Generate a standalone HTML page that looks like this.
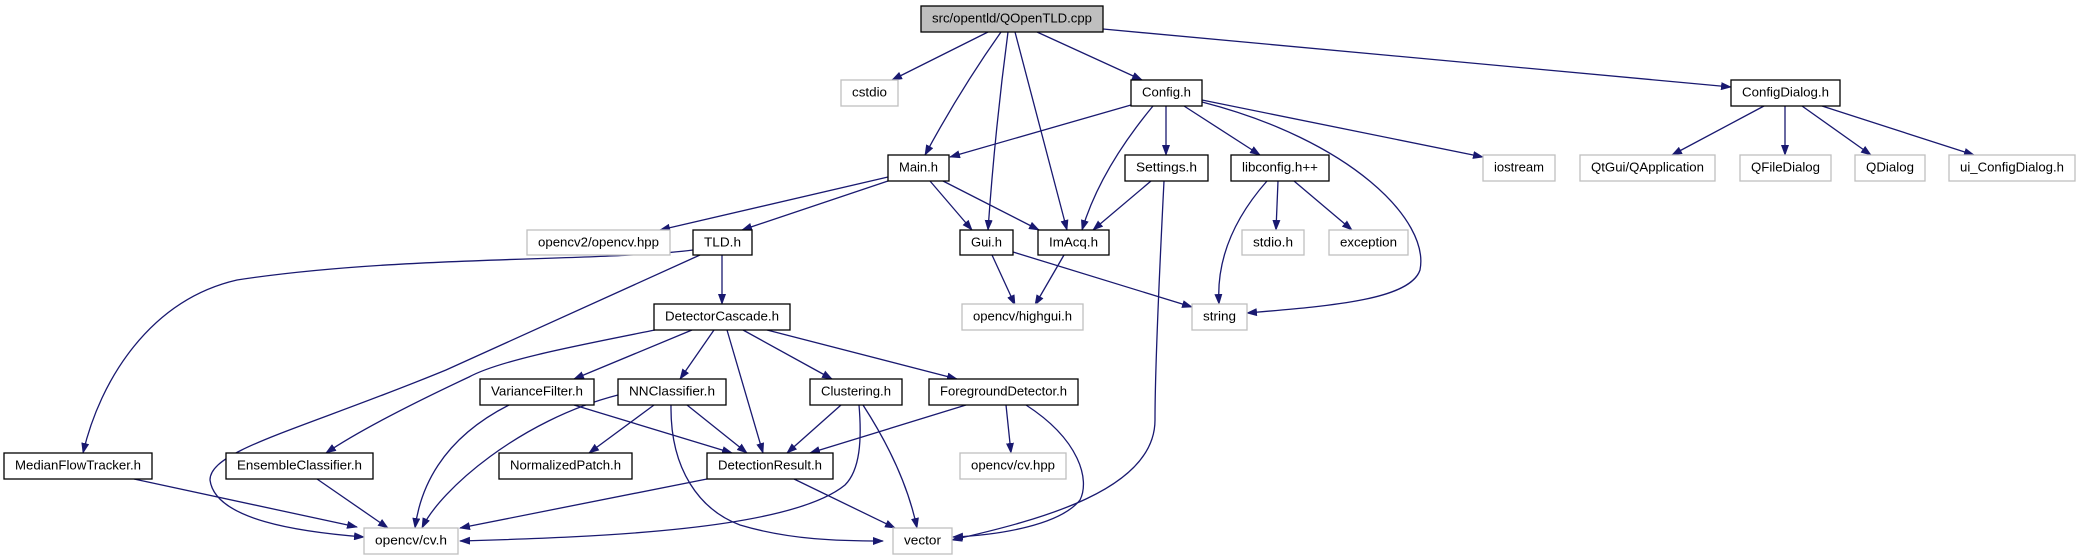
<!DOCTYPE html>
<html><head><meta charset="utf-8"><style>
html,body{margin:0;padding:0;background:#fff;}
svg{display:block;}
text{font-family:"Liberation Sans",Helvetica,sans-serif;font-size:13px;fill:#000;}
</style></head><body>
<svg width="2077" height="560" viewBox="0 0 2077 560" xmlns="http://www.w3.org/2000/svg">
<defs>
<marker id="a" markerWidth="11" markerHeight="8" refX="10" refY="4" orient="auto" markerUnits="userSpaceOnUse">
<path d="M0,0 L11,4 L0,8 z" fill="#191970"/>
</marker>
</defs>
<g fill="none" stroke="#191970" stroke-width="1.3" marker-end="url(#a)">
<path d="M988,32 L892,80"/>
<path d="M1001,32 Q960,90 925,155"/>
<path d="M1008,32 Q995,130 988,230"/>
<path d="M1015,32 L1067,230"/>
<path d="M1037,32 L1142,80"/>
<path d="M1103,29 L1731,87"/>
<path d="M1131,105 L950,157"/>
<path d="M1153,106 Q1100,170 1082,230"/>
<path d="M1166,106 L1166,155"/>
<path d="M1184,106 L1260,155"/>
<path d="M1202,100 L1483,157"/>
<path d="M1202,102 C1350,140 1430,220 1420,270 C1410,300 1330,306 1247,313"/>
<path d="M888,177 L660,230"/>
<path d="M888,181 L742,230"/>
<path d="M930,181 L972,230"/>
<path d="M943,181 L1039,230"/>
<path d="M1151,181 L1093,230"/>
<path d="M1164,181 C1158,300 1155,380 1155,420 C1155,490 1040,520 952,540"/>
<path d="M1278,181 L1276,230"/>
<path d="M1294,181 L1352,230"/>
<path d="M1267,181 Q1215,240 1219,304"/>
<path d="M992,255 L1015,305"/>
<path d="M1013,252 L1192,307"/>
<path d="M1064,255 L1035,305"/>
<path d="M722,255 L722,304"/>
<path d="M693,250 C600,262 400,255 237,280 C150,300 100,380 83,453"/>
<path d="M700,255 L446,370 C300,430 210,450 210,480 C215,520 300,532 364,537"/>
<path d="M655,330 C580,345 500,360 469,377 C420,400 360,430 326,453"/>
<path d="M692,330 L574,379"/>
<path d="M714,330 L680,379"/>
<path d="M727,330 L763,453"/>
<path d="M743,330 L832,379"/>
<path d="M767,330 L957,379"/>
<path d="M509,405 C440,440 420,490 415,528"/>
<path d="M574,405 L732,453"/>
<path d="M618,395 C520,420 440,490 422,528"/>
<path d="M654,405 L589,453"/>
<path d="M687,405 L747,453"/>
<path d="M671,405 C670,470 700,510 740,525 C790,540 840,541 883,541"/>
<path d="M841,405 L787,453"/>
<path d="M859,405 C862,440 860,470 845,485 C790,530 600,537 460,541"/>
<path d="M863,405 Q905,470 917,528"/>
<path d="M966,405 L810,453"/>
<path d="M1006,405 L1011,453"/>
<path d="M1026,405 C1080,440 1090,480 1080,500 C1060,525 1000,535 953,537"/>
<path d="M707,479 L460,528"/>
<path d="M794,479 L895,528"/>
<path d="M134,479 L357,527"/>
<path d="M317,479 L388,528"/>
<path d="M1764,106 L1672,155"/>
<path d="M1785,106 L1785,155"/>
<path d="M1802,106 L1871,155"/>
<path d="M1822,106 L1974,155"/>
</g>
<rect x="921" y="6" width="182" height="26" fill="#bfbfbf" stroke="#000" stroke-width="1.3"/>
<g fill="#fff" stroke="#000" stroke-width="1.3">
<rect x="1131" y="80" width="71" height="26"/>
<rect x="1731" y="80" width="109" height="26"/>
<rect x="888" y="155" width="61" height="26"/>
<rect x="1125" y="155" width="83" height="26"/>
<rect x="1231" y="155" width="98" height="26"/>
<rect x="693" y="230" width="59" height="25"/>
<rect x="960" y="230" width="53" height="25"/>
<rect x="1038" y="230" width="71" height="25"/>
<rect x="654" y="304" width="136" height="26"/>
<rect x="480" y="379" width="114" height="26"/>
<rect x="618" y="379" width="108" height="26"/>
<rect x="810" y="379" width="92" height="26"/>
<rect x="929" y="379" width="149" height="26"/>
<rect x="4" y="453" width="148" height="26"/>
<rect x="226" y="453" width="147" height="26"/>
<rect x="499" y="453" width="133" height="26"/>
<rect x="707" y="453" width="126" height="26"/>
</g>
<g fill="#fff" stroke="#bfbfbf" stroke-width="1.3">
<rect x="841" y="80" width="57" height="26"/>
<rect x="1483" y="155" width="72" height="26"/>
<rect x="1580" y="155" width="135" height="26"/>
<rect x="1740" y="155" width="91" height="26"/>
<rect x="1855" y="155" width="70" height="26"/>
<rect x="1949" y="155" width="126" height="26"/>
<rect x="527" y="230" width="143" height="25"/>
<rect x="1242" y="230" width="62" height="25"/>
<rect x="1329" y="230" width="79" height="25"/>
<rect x="962" y="304" width="121" height="26"/>
<rect x="1192" y="304" width="55" height="26"/>
<rect x="960" y="453" width="106" height="26"/>
<rect x="364" y="528" width="94" height="26"/>
<rect x="893" y="528" width="59" height="26"/>
</g>
<g transform="translate(0,-1.5)">
<text x="932" y="24" textLength="160" lengthAdjust="spacingAndGlyphs">src/opentld/QOpenTLD.cpp</text>
<text x="1142" y="98" textLength="49" lengthAdjust="spacingAndGlyphs">Config.h</text>
<text x="1742" y="98" textLength="87" lengthAdjust="spacingAndGlyphs">ConfigDialog.h</text>
<text x="852" y="98" textLength="35" lengthAdjust="spacingAndGlyphs">cstdio</text>
<text x="899" y="173" textLength="39" lengthAdjust="spacingAndGlyphs">Main.h</text>
<text x="1136" y="173" textLength="61" lengthAdjust="spacingAndGlyphs">Settings.h</text>
<text x="1242" y="173" textLength="76" lengthAdjust="spacingAndGlyphs">libconfig.h++</text>
<text x="1494" y="173" textLength="50" lengthAdjust="spacingAndGlyphs">iostream</text>
<text x="1591" y="173" textLength="113" lengthAdjust="spacingAndGlyphs">QtGui/QApplication</text>
<text x="1751" y="173" textLength="69" lengthAdjust="spacingAndGlyphs">QFileDialog</text>
<text x="1866" y="173" textLength="48" lengthAdjust="spacingAndGlyphs">QDialog</text>
<text x="1960" y="173" textLength="104" lengthAdjust="spacingAndGlyphs">ui_ConfigDialog.h</text>
<text x="538" y="248" textLength="121" lengthAdjust="spacingAndGlyphs">opencv2/opencv.hpp</text>
<text x="704" y="248" textLength="37" lengthAdjust="spacingAndGlyphs">TLD.h</text>
<text x="971" y="248" textLength="31" lengthAdjust="spacingAndGlyphs">Gui.h</text>
<text x="1049" y="248" textLength="49" lengthAdjust="spacingAndGlyphs">ImAcq.h</text>
<text x="1253" y="248" textLength="40" lengthAdjust="spacingAndGlyphs">stdio.h</text>
<text x="1340" y="248" textLength="57" lengthAdjust="spacingAndGlyphs">exception</text>
<text x="665" y="322" textLength="114" lengthAdjust="spacingAndGlyphs">DetectorCascade.h</text>
<text x="973" y="322" textLength="99" lengthAdjust="spacingAndGlyphs">opencv/highgui.h</text>
<text x="1203" y="322" textLength="33" lengthAdjust="spacingAndGlyphs">string</text>
<text x="491" y="397" textLength="92" lengthAdjust="spacingAndGlyphs">VarianceFilter.h</text>
<text x="629" y="397" textLength="86" lengthAdjust="spacingAndGlyphs">NNClassifier.h</text>
<text x="821" y="397" textLength="70" lengthAdjust="spacingAndGlyphs">Clustering.h</text>
<text x="940" y="397" textLength="127" lengthAdjust="spacingAndGlyphs">ForegroundDetector.h</text>
<text x="15" y="471" textLength="126" lengthAdjust="spacingAndGlyphs">MedianFlowTracker.h</text>
<text x="237" y="471" textLength="125" lengthAdjust="spacingAndGlyphs">EnsembleClassifier.h</text>
<text x="510" y="471" textLength="111" lengthAdjust="spacingAndGlyphs">NormalizedPatch.h</text>
<text x="718" y="471" textLength="104" lengthAdjust="spacingAndGlyphs">DetectionResult.h</text>
<text x="971" y="471" textLength="84" lengthAdjust="spacingAndGlyphs">opencv/cv.hpp</text>
<text x="375" y="546" textLength="72" lengthAdjust="spacingAndGlyphs">opencv/cv.h</text>
<text x="904" y="546" textLength="37" lengthAdjust="spacingAndGlyphs">vector</text>
</g>
</svg>
</body></html>
